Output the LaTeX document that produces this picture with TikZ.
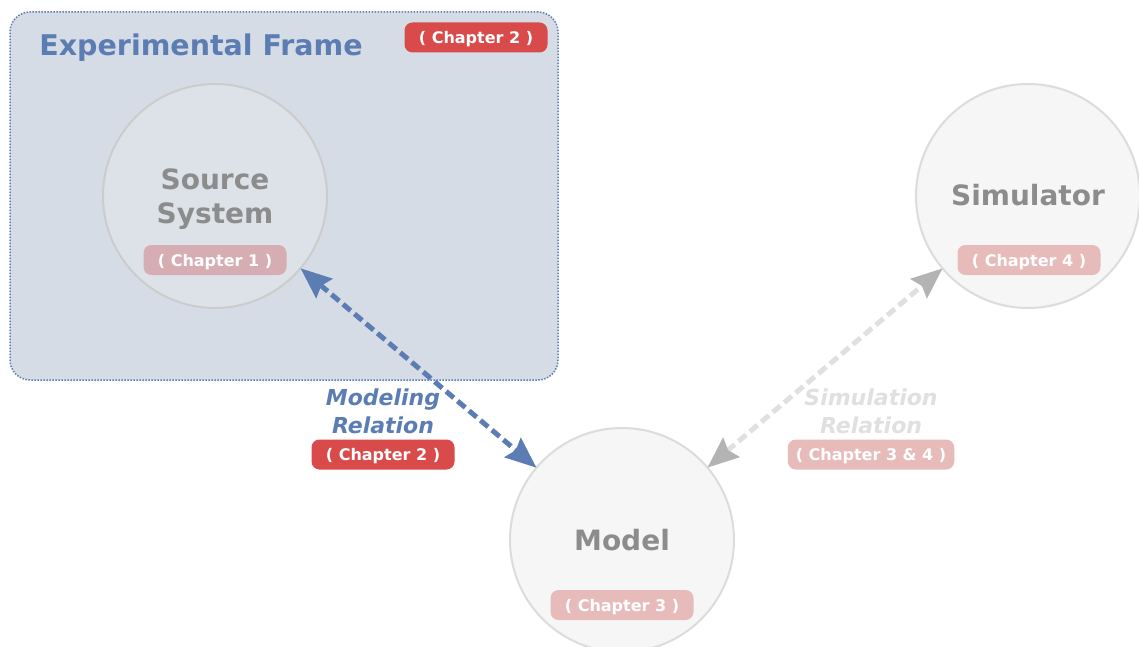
\documentclass[tikz,border=0pt]{standalone}
\usepackage{fontspec}
\setmainfont{DejaVu Sans}
\usetikzlibrary{arrows.meta}
\definecolor{framefill}{RGB}{213,220,230}
\definecolor{frameblue}{RGB}{91,125,179}
\definecolor{srcfill}{RGB}{221,226,233}
\definecolor{circfill}{RGB}{246,246,246}
\definecolor{circline}{RGB}{220,220,220}
\definecolor{srcline}{RGB}{204,204,204}
\definecolor{graytext}{RGB}{140,140,140}
\definecolor{badgered}{RGB}{217,75,75}
\definecolor{badgesrc}{RGB}{214,173,178}
\definecolor{badgefade}{RGB}{232,187,187}
\definecolor{simtext}{RGB}{224,224,224}
\definecolor{simtip}{RGB}{179,179,179}
\tikzset{
  framebox/.style={rectangle, rounded corners=20pt, fill=framefill, draw=frameblue,
    line width=1.5pt, dash pattern=on 1.5pt off 1.5pt, minimum width=548pt, minimum height=368pt,
    inner sep=0pt, outer sep=0pt},
  circnode/.style={circle, minimum size=224pt, inner sep=0pt, outer sep=0pt, line width=2pt},
  bigtxt/.style={text=graytext, font=\fontsize{28}{34}\selectfont\bfseries, align=center, inner sep=0pt},
  badge/.style={rounded corners=8pt, text=white, font=\fontsize{16}{18}\selectfont\bfseries,
    minimum height=30pt, minimum width=143pt, inner xsep=8pt, inner ysep=0pt, text depth=0pt},
  rellabel/.style={font=\fontsize{22}{28}\selectfont\bfseries\itshape, align=center, inner sep=0pt},
  modarrow/.style={draw=frameblue, line width=5pt, dash pattern=on 10pt off 5pt,
    {Stealth[length=31pt,width=25pt,inset=4pt]}-{Stealth[length=31pt,width=25pt,inset=4pt]}},
  simarrow/.style={draw=simtext, line width=5pt, dash pattern=on 10pt off 5pt,
    {Stealth[length=31pt,width=25pt,inset=4pt,color=simtip]}-{Stealth[length=31pt,width=25pt,inset=4pt,color=simtip]}}
}
\begin{document}
\begin{tikzpicture}[x=1pt,y=-1pt]
\useasboundingbox (0,0) rectangle (1139,647);
\clip (0,0) rectangle (1139,647);
\fill[white] (0,0) rectangle (1139,647);
% experimental frame
\node[framebox] (frame) at (284,196) {};
\node[text=frameblue, font=\fontsize{28.5}{34}\selectfont\bfseries, inner sep=0pt] (frametitle) at (201,48) {Experimental Frame};
\node[badge, fill=badgered] (fbadge) at (476,37.5) {( Chapter 2 )};
% circles
\node[circnode, fill=srcfill, draw=srcline] (src) at (215,196) {};
\node[circnode, fill=circfill, draw=circline] (sim) at (1028,196) {};
\node[circnode, fill=circfill, draw=circline] (model) at (622,540) {};
% circle texts
\node[bigtxt] (srclbl) at (215,199) {Source\\System};
\node[badge, fill=badgesrc] (srcbadge) at (215,260) {( Chapter 1 )};
\node[bigtxt] (simlbl) at (1028,195) {Simulator};
\node[badge, fill=badgefade] (simbadge) at (1029,260) {( Chapter 4 )};
\node[bigtxt] (modlbl) at (622,540) {Model};
\node[badge, fill=badgefade] (modbadge) at (622,605) {( Chapter 3 )};
% relations
\draw[modarrow] (src) -- (model);
\draw[simarrow] (model) -- (sim);
\node[rellabel, text=frameblue] (modrel) at (383,411) {Modeling\\Relation};
\node[badge, fill=badgered] (modrelbadge) at (383,454.5) {( Chapter 2 )};
\node[rellabel, text=simtext] (simrel) at (871,411) {Simulation\\Relation};
\node[badge, fill=badgefade, minimum width=160pt] (simrelbadge) at (871,454.5) {( Chapter 3 \& 4 )};
\end{tikzpicture}
\end{document}
